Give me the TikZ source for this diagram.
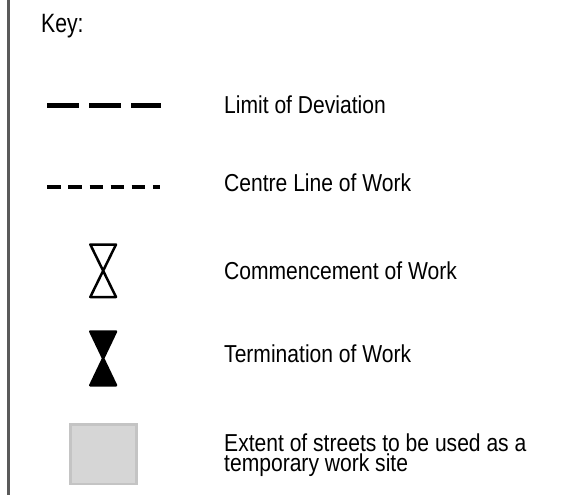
\documentclass[tikz,border=0pt]{standalone}
\usepackage{fontspec}
\setmainfont[FakeStretch=0.86]{Liberation Sans}
\newfontfamily\keyfont[FakeStretch=0.8]{Liberation Sans}
\definecolor{frameline}{HTML}{5A5A5A}
\definecolor{sitefill}{HTML}{D6D6D6}
\definecolor{siteedge}{HTML}{C4C4C4}
\begin{document}
\begin{tikzpicture}[x=1bp,y=-1bp,
  label text/.style={anchor=base west,inner sep=0pt,font=\fontsize{24.5bp}{20bp}\selectfont,align=left},
  lod line/.style={line width=5bp,dash pattern=on 31.8bp off 10.2bp,line cap=butt},
  cl line/.style={line width=4bp,dash pattern=on 13.4bp off 7.7bp,line cap=butt},
  glass/.style={line width=2.5bp,line join=round,draw=black}]
\useasboundingbox (0,0) rectangle (586,495);
\draw[line width=2.5bp,frameline] (8.7,0) -- (8.7,495);
\node[anchor=base west,inner sep=0pt,font=\keyfont\fontsize{26.5bp}{26.5bp}\selectfont] (key) at (41,33) {Key:};
% limit of deviation
\coordinate (lodA) at (47.3,105.5);
\coordinate (lodB) at (160.7,105.5);
\draw[lod line] (lodA) -- (lodB);
\node[label text] (lod) at (224,114) {Limit of Deviation};
% centre line
\coordinate (clA) at (47.3,187);
\coordinate (clB) at (159.5,187);
\draw[cl line] (clA) -- (clB);
\node[label text] (cl) at (224,192) {Centre Line of Work};
% commencement
\draw[glass] (90.3,244.5) -- (116,244.5) -- (90.3,297) -- (116,297) -- cycle;
\node[label text] (com) at (224,279) {Commencement of Work};
% termination
\draw[glass,fill=black] (90.3,331.5) -- (116,331.5) -- (90.3,385.3) -- (116,385.3) -- cycle;
\node[label text] (ter) at (224,362) {Termination of Work};
% extent
\draw[line width=2.5bp,draw=siteedge,fill=sitefill] (70.5,424.5) rectangle (136.5,483.8);
\node[label text] (ext) at (224,471) {Extent of streets to be used as a\\temporary work site};
\end{tikzpicture}
\end{document}
